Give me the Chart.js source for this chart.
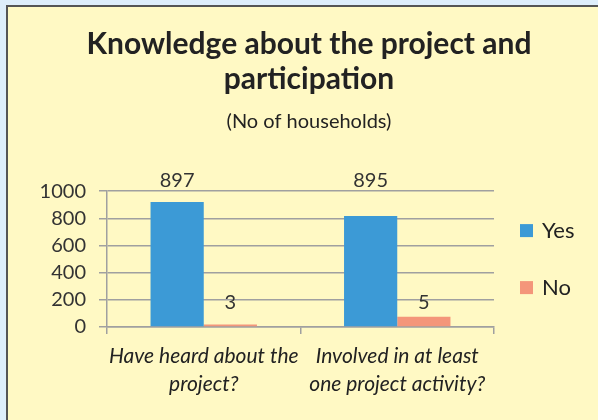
<!DOCTYPE html>
<html lang="en">
<head>
<meta charset="UTF-8">
<title>Knowledge about the project and participation</title>
<script src="https://cdn.jsdelivr.net/npm/chart.js"></script>
<style>
  html, body { margin: 0; padding: 0; background: #deeefb; }
  #painel {
    position: absolute; left: 6px; top: 5px;
    width: 590px; height: 413px;
    border-left: 2px solid #555; border-top: 2px solid #555;
    background: #fff9c4;
  }
  canvas { display: block; }
</style>
</head>
<body>
<div id="painel"><canvas id="grafico" width="590" height="413"></canvas></div>
<script>
const categorias = [['Have heard about the', 'project?'], ['Involved in at least', 'one project activity?']];
const sim = [920, 818];
const nao = [19, 75];
const rotulosSim = ['897', '895'];
const rotulosNao = ['3', '5'];
const ticksY = [0, 200, 400, 600, 800, 1000];

const fonte = 'Lato, "Open Sans", sans-serif';

// rotulos de valor como aparecem no original
const rotulos = {
  id: 'rotulos',
  afterDatasetsDraw(chart) {
    const ctx = chart.ctx;
    const y = chart.scales.y;
    ctx.save();
    ctx.font = '20px ' + fonte;
    ctx.fillStyle = '#333';
    ctx.textAlign = 'center';
    ctx.textBaseline = 'middle';
    chart.getDatasetMeta(0).data.forEach((bar, i) => {
      ctx.fillText(rotulosSim[i], bar.x, chart.chartArea.top - 11);
    });
    chart.getDatasetMeta(1).data.forEach((bar, i) => {
      ctx.fillText(rotulosNao[i], bar.x, y.getPixelForValue(200) + 3);
    });
    ctx.restore();
  }
};

// legenda a direita, desenhada a mao
const legenda = {
  id: 'legenda',
  afterDraw(chart) {
    const ctx = chart.ctx;
    const area = chart.chartArea;
    const meio = (area.top + area.bottom) / 2;
    ctx.save();
    ctx.font = '22px ' + fonte;
    ctx.textAlign = 'left';
    ctx.textBaseline = 'middle';
    chart.data.datasets.forEach((ds, i) => {
      const y = meio + (i - 0.5) * 57;
      ctx.fillStyle = ds.backgroundColor;
      ctx.fillRect(area.right + 26, y - 6.5, 13, 13);
      ctx.fillStyle = '#222';
      ctx.fillText(ds.label, area.right + 48, y);
    });
    ctx.restore();
  }
};

new Chart(document.getElementById('grafico'), {
  type: 'bar',
  data: {
    labels: categorias,
    datasets: [
      { label: 'Yes', data: sim, backgroundColor: '#3c9ad6', categoryPercentage: 0.55, barPercentage: 1 },
      { label: 'No', data: nao, backgroundColor: '#f4967a', categoryPercentage: 0.55, barPercentage: 1 }
    ]
  },
  options: {
    responsive: false,
    animation: false,
    layout: { padding: { left: 12, right: 0, top: 0, bottom: 0 } },
    plugins: {
      title: {
        display: true,
        text: ['Knowledge about the project and', 'participation'],
        font: { family: fonte, size: 30, weight: 'bold', lineHeight: 1.17 },
        color: '#222',
        padding: { top: 20, bottom: 1 }
      },
      subtitle: {
        display: true,
        text: '(No of households)',
        font: { family: fonte, size: 20, lineHeight: 1.2 },
        color: '#222',
        padding: { top: 11, bottom: 58 }
      },
      legend: { display: false },
      tooltip: { enabled: false }
    },
    scales: {
      y: {
        min: 0, max: 1000,
        afterBuildTicks: axis => { axis.ticks = ticksY.map(v => ({ value: v })); },
        afterFit: axis => { axis.width = 87; },
        ticks: { font: { family: fonte, size: 20 }, color: '#333', padding: 13, callback: v => String(v) },
        grid: { color: '#a0a0a0', lineWidth: 1.5, tickLength: 8 },
        border: { color: '#a0a0a0', width: 1.5 }
      },
      espaco: {
        position: 'right',
        display: true,
        afterFit: axis => { axis.width = 104; },
        grid: { display: false },
        ticks: { display: false },
        border: { display: false }
      },
      x: {
        afterFit: axis => { axis.height = 93; },
        ticks: { font: { family: fonte, size: 21, style: 'italic', lineHeight: 1.35 }, color: '#222', padding: 8, maxRotation: 0, autoSkip: false },
        grid: { display: true, drawOnChartArea: false, offset: true, color: '#a0a0a0', lineWidth: 1.5, tickLength: 7 },
        border: { color: '#a0a0a0', width: 1.5 }
      }
    }
  },
  plugins: [rotulos, legenda]
});
</script>
</body>
</html>
